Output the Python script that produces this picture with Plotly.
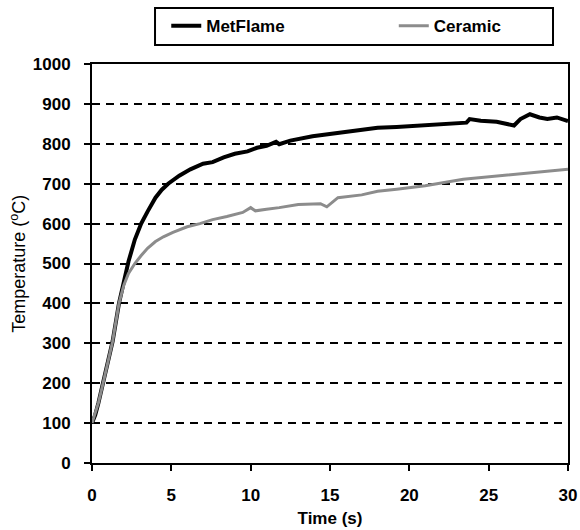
import plotly.graph_objects as go

# MetFlame series (time s, temperature °C)
met_t = [0, 0.2, 0.4, 0.7, 1.0, 1.3, 1.7, 2.0, 2.3, 2.7, 3.1, 3.5, 4.0, 4.4, 4.8,
         5.5, 6.2, 7.0, 7.6, 8.3, 9.0, 9.8, 10.4, 11.0, 11.6, 11.8, 12.5, 13.9,
         15.6, 17.0, 18.0, 19.2, 21.0, 23.0, 23.6, 23.8, 24.5, 25.5, 26.3, 26.6,
         27.0, 27.6, 28.2, 28.7, 29.3, 30.0]
met_T = [100, 120, 150, 200, 255, 305, 400, 455, 505, 560, 600, 630, 665, 685, 700,
         720, 736, 750, 754, 766, 775, 781, 790, 795, 805, 799, 808, 819,
         828, 835, 840, 842, 847, 852, 853, 862, 858, 855, 850, 846,
         862, 874, 866, 862, 866, 857]

# Ceramic series
cer_t = [0, 0.4, 0.7, 1.0, 1.3, 1.7, 2.0, 2.3, 2.7, 3.1, 3.5, 4.0, 4.5, 5.1, 5.5,
         6.0, 6.8, 7.6, 8.5, 9.5, 10.0, 10.3, 11.0, 11.8, 13.0, 14.4, 14.8, 15.5,
         17.0, 18.0, 19.2, 21.0, 23.4, 25.0, 26.5, 28.0, 30.0]
cer_T = [100, 150, 200, 255, 305, 400, 445, 475, 500, 520, 538, 555, 567, 578, 585,
         592, 600, 610, 618, 628, 640, 632, 636, 640, 648, 650, 642, 665,
         672, 681, 686, 695, 711, 717, 723, 728, 736]

x_ticks = [0, 5, 10, 15, 20, 25, 30]
y_ticks = [0, 100, 200, 300, 400, 500, 600, 700, 800, 900, 1000]

FONT = "Liberation Sans, Arial, sans-serif"
LEGFONT = dict(family=FONT, size=17, color="black", weight="bold")

fig = go.Figure()
fig.add_trace(go.Scatter(x=met_t, y=met_T, mode="lines", name="MetFlame",
                         line=dict(color="black", width=4), legend="legend"))
fig.add_trace(go.Scatter(x=cer_t, y=cer_T, mode="lines", name="Ceramic",
                         line=dict(color="#8c8c8c", width=3), legend="legend2"))

fig.update_layout(
    width=580, height=530,
    margin=dict(l=92, r=12, t=64, b=67, autoexpand=False),
    paper_bgcolor="white", plot_bgcolor="white",
    font=dict(family=FONT, color="black"),
    showlegend=True,
    legend=dict(orientation="h", x=0.156, xanchor="left", y=1.095, yanchor="middle",
                bgcolor="rgba(0,0,0,0)", borderwidth=0, font=LEGFONT),
    legend2=dict(orientation="h", x=0.634, xanchor="left", y=1.095, yanchor="middle",
                 bgcolor="rgba(0,0,0,0)", borderwidth=0, font=LEGFONT),
    shapes=[dict(type="rect", xref="paper", yref="paper",
                 x0=0.1324, x1=0.9685, y0=1.0476, y1=1.1404,
                 line=dict(color="black", width=2))],
    annotations=[dict(text="Temperature (<sup>o</sup>C)", xref="paper", yref="paper",
                      x=-0.155, y=0.5, xanchor="center", yanchor="middle",
                      textangle=-90, showarrow=False,
                      font=dict(family=FONT, size=18, color="black"))],
)

fig.update_xaxes(range=[0, 30], tickvals=x_ticks, ticks="outside", ticklen=6,
                 tickwidth=1.5, tickcolor="black",
                 showline=True, linecolor="black", linewidth=2, mirror=True,
                 showgrid=False, zeroline=False, ticklabelstandoff=10,
                 tickfont=dict(family=FONT, size=17, color="black", weight="bold"),
                 title=dict(text="Time (s)", standoff=8,
                            font=dict(family=FONT, size=17, color="black", weight="bold")))
fig.update_yaxes(range=[0, 1000], tickvals=y_ticks, ticks="outside", ticklen=6,
                 tickwidth=1.5, tickcolor="black",
                 showline=True, linecolor="black", linewidth=2, mirror=True,
                 showgrid=True, gridcolor="black", gridwidth=1.5, griddash="8px,6px",
                 zeroline=False, ticklabelstandoff=10,
                 tickfont=dict(family=FONT, size=17, color="black", weight="bold"))

fig.write_html("out.html")
